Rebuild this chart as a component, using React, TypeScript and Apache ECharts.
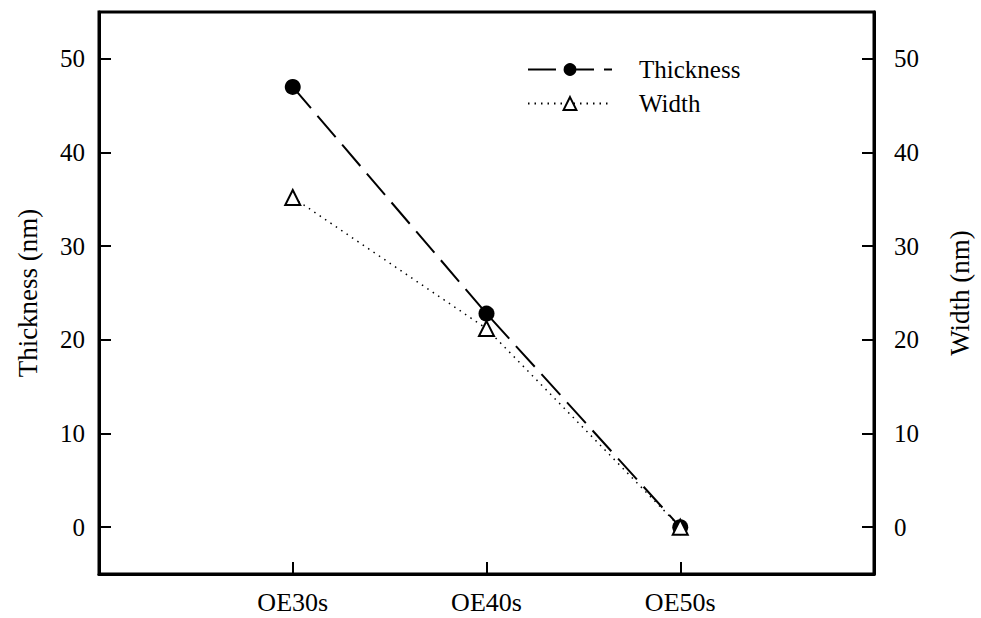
import React, { useEffect, useRef } from "react";
import * as echarts from "echarts";

const categories = ["OE30s", "OE40s", "OE50s"];
const categoryPositions = [1, 2, 3];
const thickness = [47.0, 22.8, 0];
const width = [35.2, 21.2, 0];
const yTicks = [0, 10, 20, 30, 40, 50];

const FONT = "'Liberation Serif', 'Times New Roman', serif";

export default function App() {
  const ref = useRef<HTMLDivElement>(null);
  useEffect(() => {
    if (!ref.current) return;
    const chart = echarts.init(ref.current, null, { renderer: "svg" });
    const axisBase = {
      axisLine: { show: true, onZero: false, lineStyle: { color: "#000", width: 3 } },
      splitLine: { show: false },
    };
    chart.setOption({
      animation: false,
      backgroundColor: "#fff",
      textStyle: { fontFamily: FONT },
      grid: {
        left: 99,
        right: 98.5,
        top: 12,
        bottom: 44,
        show: true,
        borderColor: "#000",
        borderWidth: 3,
        containLabel: false,
      },
      legend: {
        orient: "vertical",
        left: 522,
        top: 52,
        itemWidth: 84,
        itemHeight: 16,
        itemGap: 9,
        textStyle: {
          fontFamily: FONT,
          fontSize: 25,
          lineHeight: 20,
          color: "#000",
          padding: [0, 0, 0, 22],
        },
        data: ["Thickness", "Width"],
      },
      xAxis: {
        type: "value",
        min: 0,
        max: 4,
        interval: 1,
        ...axisBase,
        axisTick: {
          show: true,
          inside: true,
          length: 12,
          customValues: categoryPositions,
          lineStyle: { color: "#000", width: 2 },
        },
        axisLabel: {
          customValues: categoryPositions,
          margin: 15,
          fontFamily: FONT,
          fontSize: 26,
          color: "#000",
          formatter: (v: number) => categories[categoryPositions.indexOf(v)] ?? "",
        },
      },
      yAxis: [
        {
          type: "value",
          min: -5,
          max: 55,
          position: "left",
          ...axisBase,
          name: "Thickness (nm)",
          nameLocation: "middle",
          nameGap: 58,
          nameRotate: 90,
          nameTextStyle: { fontFamily: FONT, fontSize: 27, color: "#000" },
          axisTick: {
            show: true,
            inside: true,
            length: 12,
            customValues: yTicks,
            lineStyle: { color: "#000", width: 2 },
          },
          axisLabel: {
            customValues: yTicks,
            margin: 14,
            fontFamily: FONT,
            fontSize: 25,
            color: "#000",
          },
        },
        {
          type: "value",
          min: -5,
          max: 55,
          position: "right",
          ...axisBase,
          name: "Width (nm)",
          nameLocation: "middle",
          nameGap: 72,
          nameRotate: 90,
          nameTextStyle: { fontFamily: FONT, fontSize: 27, color: "#000" },
          axisTick: {
            show: true,
            inside: true,
            length: 12,
            customValues: yTicks,
            lineStyle: { color: "#000", width: 2 },
          },
          axisLabel: {
            customValues: yTicks,
            margin: 20,
            fontFamily: FONT,
            fontSize: 25,
            color: "#000",
          },
        },
      ],
      series: [
        {
          name: "Thickness",
          type: "line",
          yAxisIndex: 0,
          data: categoryPositions.map((x, i) => [x, thickness[i]]),
          symbol: "circle",
          symbolSize: 16,
          itemStyle: { color: "#000" },
          lineStyle: { color: "#000", width: 2, type: [28, 10] },
        },
        {
          name: "Width",
          type: "line",
          yAxisIndex: 1,
          data: categoryPositions.map((x, i) => [x, width[i]]),
          symbol: "triangle",
          symbolSize: 15,
          itemStyle: { color: "#fff", borderColor: "#000", borderWidth: 2 },
          lineStyle: { color: "#000", width: 1.5, type: [1.5, 5] },
        },
      ],
    });
    return () => chart.dispose();
  }, []);
  return <div ref={ref} style={{ width: 981, height: 618, position: "absolute", left: 0, top: 0 }} />;
}
